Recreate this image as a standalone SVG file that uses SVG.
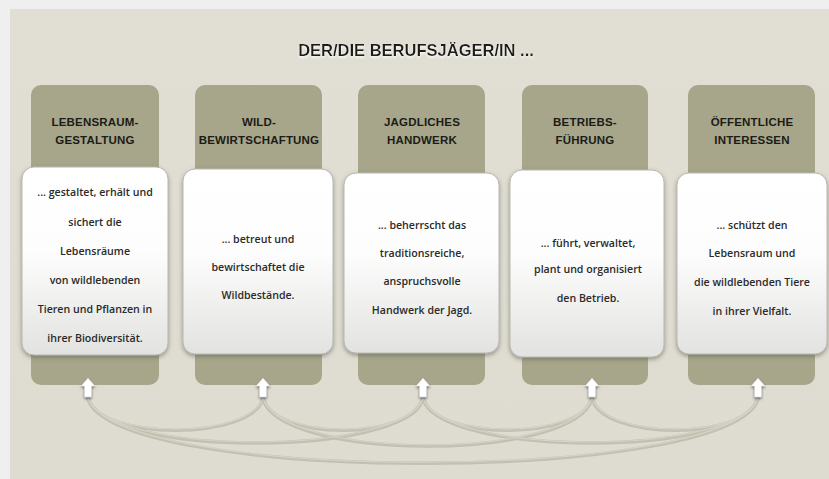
<svg xmlns="http://www.w3.org/2000/svg" width="829" height="479" viewBox="0 0 829 479">
  <defs>
    <linearGradient id="cardGrad" x1="0" y1="0" x2="0" y2="1">
      <stop offset="0" stop-color="#ffffff"/>
      <stop offset="0.45" stop-color="#fdfdfd"/>
      <stop offset="1" stop-color="#e2e2e0"/>
    </linearGradient>
    <linearGradient id="panelGrad" x1="0" y1="0" x2="0" y2="1">
      <stop offset="0" stop-color="#e1ded3"/>
      <stop offset="1" stop-color="#dedbd0"/>
    </linearGradient>
    <filter id="cardShadow" x="-10%" y="-10%" width="120%" height="125%">
      <feDropShadow dx="0" dy="2" stdDeviation="2" flood-color="#5a5a50" flood-opacity="0.55"/>
    </filter>
    <filter id="titleShadow" x="-5%" y="-20%" width="110%" height="160%">
      <feDropShadow dx="0" dy="1.5" stdDeviation="1" flood-color="#ffffff" flood-opacity="0.9"/>
    </filter>
    <filter id="arrowShadow" x="-50%" y="-30%" width="200%" height="170%">
      <feDropShadow dx="0" dy="1.5" stdDeviation="1" flood-color="#333333" flood-opacity="0.7"/>
    </filter>
    <polygon id="upArrow" points="0,0 7,8 3.5,8 3.5,19 -3.5,19 -3.5,8 -7,8"/>
  </defs>
  <style>
    .olive { fill: #a7a68a; }
    .card { fill: url(#cardGrad); stroke: #b9b8b0; stroke-width: 1; filter: url(#cardShadow); }
    .head { font-family: "Liberation Sans", Arial, sans-serif; font-weight: bold; font-size: 11.5px; letter-spacing: 0.2px; fill: #1b1b17; text-anchor: middle; }
    .body { font-family: "Open Sans", "Liberation Sans", sans-serif; font-weight: 600; font-size: 10.6px; fill: #2a2a28; text-anchor: middle; }
    .title { font-family: "Liberation Sans", Arial, sans-serif; font-weight: bold; font-size: 16.5px; fill: #1a1a16; text-anchor: middle; }
    .arc { fill: none; stroke: #c2c0b1; stroke-width: 3.4; stroke-linecap: round; }
    .arcHi { fill: none; stroke: #d4d2c6; stroke-width: 1.2; }
    .arrow { fill: #ffffff; stroke: #d0d0d0; stroke-width: 0.5; filter: url(#arrowShadow); }
  </style>

  <rect x="0" y="0" width="829" height="479" fill="#efefef"/>
  <rect x="10" y="9" width="819" height="470" fill="url(#panelGrad)"/>

  <g id="title">
    <text class="title" x="416" y="56" filter="url(#titleShadow)">DER/DIE BERUFSJÄGER/IN ...</text>
  </g>

  <g id="connectors">
    <path class="arc" d="M88,398 C110,485 736,485 758,398"/>
    <path class="arc" d="M88,398 C103,458 408,458 423,398"/>
    <path class="arc" d="M263,398 C278,462 577,462 592,398"/>
    <path class="arc" d="M423,398 C438,458 743,458 758,398"/>
    <path class="arc" d="M88,398 C98,441 253,441 263,398"/>
    <path class="arc" d="M263,398 C273,441 413,441 423,398"/>
    <path class="arc" d="M423,398 C433,441 582,441 592,398"/>
    <path class="arc" d="M592,398 C602,441 748,441 758,398"/>
    <path class="arcHi" d="M88,397 C110,484 736,484 758,397"/>
    <path class="arcHi" d="M88,397 C103,457 408,457 423,397"/>
    <path class="arcHi" d="M263,397 C278,461 577,461 592,397"/>
    <path class="arcHi" d="M423,397 C438,457 743,457 758,397"/>
    <path class="arcHi" d="M88,397 C98,440 253,440 263,397"/>
    <path class="arcHi" d="M263,397 C273,440 413,440 423,397"/>
    <path class="arcHi" d="M423,397 C433,440 582,440 592,397"/>
    <path class="arcHi" d="M592,397 C602,440 748,440 758,397"/>
  </g>

  <g id="node1">
    <rect class="olive" x="31" y="85" width="128" height="300" rx="10"/>
    <text class="head" x="95" y="126">LEBENSRAUM-</text>
    <text class="head" x="95" y="144">GESTALTUNG</text>
    <rect class="card" x="22" y="167" width="146" height="188" rx="12"/>
    <text class="body" x="95" y="196">... gestaltet, erhält und</text>
    <text class="body" x="95" y="226">sichert die</text>
    <text class="body" x="95" y="255">Lebensräume</text>
    <text class="body" x="95" y="284">von wildlebenden</text>
    <text class="body" x="95" y="313">Tieren und Pflanzen in</text>
    <text class="body" x="95" y="342">ihrer Biodiversität.</text>
    <use href="#upArrow" class="arrow" x="88" y="378"/>
  </g>

  <g id="node2">
    <rect class="olive" x="195" y="85" width="127" height="300" rx="10"/>
    <text class="head" x="259" y="126">WILD-</text>
    <text class="head" x="259" y="144">BEWIRTSCHAFTUNG</text>
    <rect class="card" x="183" y="169" width="150" height="185" rx="12"/>
    <text class="body" x="258" y="243">... betreut und</text>
    <text class="body" x="258" y="271">bewirtschaftet die</text>
    <text class="body" x="258" y="299">Wildbestände.</text>
    <use href="#upArrow" class="arrow" x="263" y="378"/>
  </g>

  <g id="node3">
    <rect class="olive" x="358" y="85" width="127" height="300" rx="10"/>
    <text class="head" x="422" y="126">JAGDLICHES</text>
    <text class="head" x="422" y="144">HANDWERK</text>
    <rect class="card" x="344" y="173" width="155" height="180" rx="12"/>
    <text class="body" x="422" y="229">... beherrscht das</text>
    <text class="body" x="422" y="257">traditionsreiche,</text>
    <text class="body" x="422" y="285">anspruchsvolle</text>
    <text class="body" x="422" y="314">Handwerk der Jagd.</text>
    <use href="#upArrow" class="arrow" x="423" y="378"/>
  </g>

  <g id="node4">
    <rect class="olive" x="522" y="85" width="126" height="300" rx="10"/>
    <text class="head" x="585" y="126">BETRIEBS-</text>
    <text class="head" x="585" y="144">FÜHRUNG</text>
    <rect class="card" x="510" y="170" width="154" height="187" rx="12"/>
    <text class="body" x="588" y="247">... führt, verwaltet,</text>
    <text class="body" x="588" y="273">plant und organisiert</text>
    <text class="body" x="588" y="302">den Betrieb.</text>
    <use href="#upArrow" class="arrow" x="592" y="378"/>
  </g>

  <g id="node5">
    <rect class="olive" x="688" y="85" width="127" height="300" rx="10"/>
    <text class="head" x="752" y="126">ÖFFENTLICHE</text>
    <text class="head" x="752" y="144">INTERESSEN</text>
    <rect class="card" x="677" y="173" width="150" height="181" rx="12"/>
    <text class="body" x="752" y="229">... schützt den</text>
    <text class="body" x="752" y="257">Lebensraum und</text>
    <text class="body" x="752" y="286">die wildlebenden Tiere</text>
    <text class="body" x="752" y="315">in ihrer Vielfalt.</text>
    <use href="#upArrow" class="arrow" x="758" y="378"/>
  </g>
</svg>
